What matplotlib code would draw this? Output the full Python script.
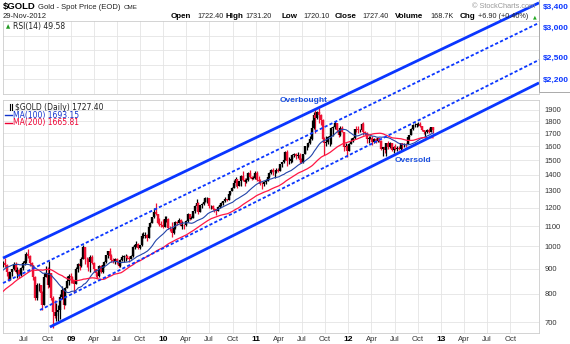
import numpy as np
import pandas as pd
import matplotlib.pyplot as plt
import matplotlib.dates as mdates
from matplotlib.patches import Rectangle
from matplotlib.lines import Line2D
from matplotlib.ticker import NullLocator

plt.rcParams['font.family'] = ['Liberation Sans', 'DejaVu Sans']

W, H = 570, 344

# weekly closes Jun 2007 - Mar 2008, only used to warm up the moving averages
early_closes = [650,
    656, 666, 681, 664,
    672, 678, 664, 667, 673,
    700, 710, 728, 743,
    738, 760, 765, 784,
    806, 833, 789, 823, 784,
    803, 806, 812, 838,
    865, 897, 883, 913,
    908, 922, 906, 948, 973,
    970, 1000, 920, 933]

# weekly candles Apr 2008 - Nov 2012 (one row per month)
closes = [
    914, 924, 915, 885,
    855, 885, 898, 922, 887,
    895, 872, 903, 925,
    932, 964, 955, 925,
    914, 866, 785, 832, 832,
    804, 760, 865, 880,
    832, 880, 785, 735, 722,
    733, 740, 787, 815,
    760, 823, 850, 870,
    # 2009
    865, 853, 838, 897, 920,
    913, 942, 995, 942,
    940, 930, 952, 925,
    900, 880, 870, 911,
    885, 915, 930, 958, 978,
    955, 938, 935, 940,
    928, 913, 938, 950, 954,
    955, 948, 942, 955,
    995, 1006, 1010, 990,
    1004, 1050, 1050, 1056, 1040,
    1093, 1118, 1146, 1175,
    1162, 1118, 1110, 1105,
    # 2010
    1096, 1138, 1139, 1092, 1083,
    1063, 1092, 1120, 1118,
    1133, 1102, 1105, 1104,
    1125, 1162, 1137, 1143, 1180,
    1208, 1228, 1177, 1213,
    1220, 1230, 1256, 1256,
    1210, 1210, 1190, 1189, 1181,
    1205, 1215, 1228, 1237,
    1247, 1246, 1276, 1297,
    1318, 1345, 1372, 1326, 1358,
    1394, 1367, 1353, 1364,
    1413, 1386, 1375, 1380, 1410,
    # 2011
    1369, 1360, 1342, 1340,
    1350, 1361, 1388, 1410,
    1430, 1420, 1420, 1430,
    1428, 1474, 1485, 1504, 1556,
    1491, 1493, 1511, 1536,
    1542, 1530, 1539, 1502,
    1486, 1542, 1600, 1602, 1628,
    1659, 1743, 1852, 1828,
    1877, 1857, 1810, 1656, 1622,
    1636, 1670, 1683, 1745,
    1755, 1787, 1725, 1686,
    1746, 1712, 1597, 1606, 1565,
    # 2012
    1616, 1640, 1665, 1739,
    1738, 1725, 1725, 1778,
    1711, 1700, 1658, 1662, 1668,
    1631, 1660, 1642, 1663,
    1643, 1580, 1592, 1572,
    1623, 1595, 1627, 1572, 1598,
    1579, 1590, 1580, 1622,
    1607, 1620, 1616, 1671, 1690,
    1738, 1771, 1772, 1774,
    1781, 1758, 1725, 1711,
    1715, 1731, 1714, 1751, 1727.40]

highs = [
    935, 935, 945, 918,
    890, 888, 900, 930, 930,
    905, 898, 905, 932,
    945, 972, 988, 958,
    928, 915, 868, 840, 840,
    835, 810, 880, 910,
    905, 935, 880, 790, 775,
    765, 760, 800, 830,
    815, 825, 870, 878,
    882, 870, 848, 905, 925,
    925, 950, 1005, 990,
    950, 945, 960, 960,
    930, 900, 885, 915,
    915, 920, 932, 962, 980,
    990, 965, 945, 945,
    945, 930, 940, 960, 958,
    965, 960, 955, 960,
    1000, 1010, 1025, 1015,
    1008, 1062, 1070, 1068, 1058,
    1100, 1123, 1150, 1195,
    1226, 1165, 1140, 1125,
    1135, 1155, 1155, 1140, 1100,
    1120, 1095, 1125, 1125,
    1140, 1135, 1128, 1110,
    1130, 1167, 1165, 1152, 1180,
    1212, 1250, 1230, 1215,
    1225, 1250, 1260, 1263,
    1245, 1215, 1215, 1200, 1190,
    1210, 1225, 1232, 1240,
    1260, 1252, 1280, 1300,
    1320, 1365, 1387, 1345, 1360,
    1398, 1424, 1380, 1380,
    1420, 1432, 1395, 1392, 1424,
    1422, 1390, 1373, 1350,
    1360, 1370, 1390, 1415,
    1440, 1445, 1425, 1448,
    1446, 1476, 1488, 1510, 1566,
    1576, 1520, 1514, 1540,
    1550, 1550, 1555, 1552,
    1512, 1545, 1600, 1610, 1632,
    1682, 1814, 1880, 1911,
    1890, 1921, 1860, 1820, 1675,
    1682, 1680, 1695, 1749,
    1765, 1802, 1790, 1725,
    1762, 1763, 1715, 1625, 1610,
    1626, 1662, 1670, 1740,
    1764, 1760, 1740, 1790,
    1792, 1720, 1712, 1680, 1683,
    1680, 1663, 1665, 1668,
    1668, 1648, 1594, 1600,
    1627, 1640, 1630, 1628, 1605,
    1620, 1600, 1600, 1625,
    1625, 1625, 1626, 1674, 1691,
    1741, 1775, 1790, 1787,
    1796, 1793, 1765, 1731,
    1723, 1738, 1742, 1755, 1754]

lows = [
    895, 905, 905, 870,
    850, 855, 868, 895, 880,
    860, 860, 868, 895,
    915, 925, 948, 912,
    898, 855, 775, 778, 812,
    775, 740, 760, 865,
    820, 825, 775, 682, 712,
    705, 705, 710, 780,
    745, 760, 820, 835,
    842, 840, 803, 838, 885,
    895, 905, 940, 920,
    905, 890, 885, 920,
    885, 865, 862, 865,
    880, 880, 905, 925, 945,
    950, 930, 925, 920,
    920, 905, 908, 935, 930,
    935, 940, 930, 940,
    950, 985, 998, 985,
    985, 1000, 1040, 1040, 1025,
    1040, 1095, 1120, 1140,
    1160, 1110, 1100, 1095,
    1090, 1120, 1120, 1087, 1075,
    1045, 1060, 1085, 1105,
    1115, 1100, 1087, 1087,
    1100, 1120, 1132, 1135, 1140,
    1170, 1195, 1165, 1185,
    1195, 1215, 1230, 1225,
    1195, 1190, 1188, 1175, 1158,
    1180, 1195, 1210, 1215,
    1230, 1240, 1245, 1270,
    1297, 1315, 1325, 1315, 1330,
    1325, 1360, 1330, 1345,
    1360, 1380, 1365, 1370, 1375,
    1360, 1355, 1332, 1310,
    1327, 1340, 1358, 1380,
    1405, 1400, 1380, 1410,
    1415, 1440, 1455, 1482, 1500,
    1462, 1470, 1479, 1484,
    1521, 1510, 1515, 1480,
    1478, 1480, 1540, 1570, 1595,
    1620, 1650, 1740, 1702,
    1820, 1790, 1770, 1640, 1535,
    1600, 1620, 1600, 1620,
    1680, 1740, 1710, 1670,
    1680, 1710, 1565, 1590, 1522,
    1564, 1615, 1630, 1660,
    1710, 1705, 1715, 1725,
    1688, 1685, 1627, 1625, 1655,
    1612, 1628, 1625, 1636,
    1635, 1575, 1527, 1550,
    1532, 1583, 1590, 1562, 1550,
    1575, 1564, 1570, 1575,
    1583, 1594, 1598, 1618, 1650,
    1688, 1725, 1756, 1753,
    1763, 1752, 1716, 1698,
    1675, 1707, 1705, 1711, 1705]

# trend channel: start date/price, end date/price
chan_start = ['2008-04-08', '2008-04-08', '2008-09-01', '2008-10-10']
chan_p0 = [946, 841, 741, 684]
chan_end = '2014-01-22'
chan_p1 = [3143, 2860, 2403, 2157]
chan_tags = ['$3,400', '$3,000', '$2,500', '$2,200']

price_ticks = [700, 800, 900, 1000, 1100, 1200, 1300, 1400, 1500,
               1600, 1700, 1800, 1900]
tick_dates = pd.date_range('2008-07-01', '2013-10-01', freq='QS-JAN')
tick_labels = ['Jul', 'Oct', '09', 'Apr', 'Jul', 'Oct', '10', 'Apr', 'Jul',
               'Oct', '11', 'Apr', 'Jul', 'Oct', '12', 'Apr', 'Jul', 'Oct',
               '13', 'Apr', 'Jul', 'Oct']

weeks = pd.date_range('2007-06-29', '2012-11-30', freq='W-FRI')
all_close = pd.Series(early_closes + closes, index=weeks, dtype=float)
ma100 = all_close.rolling(20).mean()
ma200 = all_close.rolling(40).mean()
n0 = len(early_closes)

c = np.array(closes, float)
o = all_close.shift(1).values[n0:]
h = np.maximum(np.array(highs, float), np.maximum(o, c))
l = np.minimum(np.array(lows, float), np.minimum(o, c))
xw = mdates.date2num(weeks[n0:]) - 2

BLUE = '#0a36ff'
GRID = '#e4e4e4'
x_lo = mdates.date2num(pd.Timestamp('2008-04-08'))
x_hi = mdates.date2num(pd.Timestamp(chan_end))
tick_x = mdates.date2num(tick_dates)

fig = plt.figure(figsize=(W / 100, H / 100), dpi=100)

def ftext(x, y, s, **kw):
    kw.setdefault('va', 'center')
    return fig.text(x / W, 1 - y / H, s, **kw)

# RSI panel (only the grid shows)
ax_rsi = fig.add_axes([3 / W, 1 - 94 / H, 536 / W, 73 / H])
ax_rsi.set_xlim(x_lo, x_hi)
ax_rsi.set_ylim(0, 100)
ax_rsi.set_xticks(tick_x)
ax_rsi.set_yticks([20, 40, 60, 80])
ax_rsi.grid(True, color=GRID, lw=0.6)
ax_rsi.tick_params(length=0, labelbottom=False, labelleft=False)
for s in ax_rsi.spines.values():
    s.set_color('#cccccc')
    s.set_linewidth(0.6)

# price panel
ax = fig.add_axes([3 / W, 1 - 333 / H, 536 / W, 233 / H])
ax.set_facecolor('none')
ax.set_yscale('log')
ax.set_xlim(x_lo, x_hi)
ax.set_ylim(665, 1990)
ax.yaxis.set_minor_locator(NullLocator())
ax.set_yticks(price_ticks)
ax.set_yticklabels([str(p) for p in price_ticks])
ax.yaxis.tick_right()
ax.set_xticks(tick_x)
ax.set_xticklabels(tick_labels)
ax.tick_params(length=0, labelsize=5.5, labelcolor='#333333')
ax.tick_params(axis='y', pad=4)
ax.tick_params(axis='x', pad=2.5)
for t in ax.get_xticklabels():
    if t.get_text().isdigit():
        t.set_fontweight('bold')
        t.set_color('black')
        t.set_fontsize(6)
ax.grid(True, color=GRID, lw=0.6)
ax.set_axisbelow(True)
for s in ax.spines.values():
    s.set_color('#cccccc')
    s.set_linewidth(0.6)

# candles: black up, red down
cols = np.where(c >= o, 'black', '#ee1133')
ax.vlines(xw, l, h, colors=cols, lw=0.9, zorder=3)
ax.vlines(xw, np.minimum(o, c), np.maximum(o, c), colors=cols, lw=1.7, zorder=3)

ax.plot(mdates.date2num(weeks[n0:]), ma100.values[n0:], color='#2244aa', lw=0.8, zorder=4)
ax.plot(mdates.date2num(weeks[n0:]), ma200.values[n0:], color='#ff1744', lw=0.9, zorder=4)

# channel lines, left unclipped so they run up through the RSI panel
for i in range(len(chan_p0)):
    xs = mdates.date2num([pd.Timestamp(chan_start[i]), pd.Timestamp(chan_end)])
    if i in (0, 3):
        ax.plot(xs, [chan_p0[i], chan_p1[i]], color=BLUE, lw=2.0, clip_on=False,
                solid_capstyle='butt', zorder=5)
    else:
        ax.plot(xs, [chan_p0[i], chan_p1[i]], color=BLUE, lw=1.3, clip_on=False,
                ls=(0, (1.8, 1.2)), zorder=5)

# box holding the channel values
fig.add_artist(Rectangle((539 / W, 1 - 92 / H), 40 / W, 100 / H, transform=fig.transFigure,
                         fc='white', ec='#aaaaaa', lw=0.7, zorder=6))
for tag, y in zip(chan_tags, [7, 28, 58, 80]):
    t = ftext(543, y, tag, color=BLUE, fontsize=6, fontweight='bold')
    t.set_zorder(7)

# header
ftext(3, 7, '$GOLD', fontsize=6.8, fontweight='bold')
ftext(38, 7.5, 'Gold - Spot Price (EOD)', fontsize=5.5, color='#222222')
ftext(124, 7.5, 'CME', fontsize=4.5, color='#222222')
ftext(3, 16.3, '29-Nov-2012', fontsize=5.5, color='#222222')
ftext(472, 6, '\u00a9 StockCharts.com', fontsize=5.3, color='#999999')
row = [(171, 'Open', True), (197, '1722.40', False), (226, 'High', True),
       (245, '1731.20', False), (282, 'Low', True), (303, '1720.10', False),
       (335, 'Close', True), (362, '1727.40', False), (395, 'Volume', True),
       (430, '168.7K', False), (460, 'Chg', True), (477, '+6.90 (+0.40%)', False)]
for x, s, b in row:
    if b:
        ftext(x, 16.3, s, fontsize=5.8, fontweight='bold')
    else:
        ftext(x + 0.5, 16.5, s, fontsize=5.2, color='#222222')
ftext(533, 17, '\u25b2', fontsize=3.5, color='#22aa22', family=['DejaVu Sans'])

# panel legends
ftext(6, 26.5, '\u25b2', fontsize=4, color='#229922', family=['DejaVu Sans'])
ftext(13, 26.7, 'RSI(14) 49.58', fontsize=5.5, color='#222222', family=['DejaVu Sans'])
fig.add_artist(Line2D([9.5 / W, 9.5 / W], [1 - 104 / H, 1 - 110 / H], color='black', lw=0.8))
fig.add_artist(Line2D([12 / W, 12 / W], [1 - 104 / H, 1 - 110 / H], color='black', lw=0.8))
ftext(15, 107, '$GOLD (Daily) 1727.40', fontsize=5.5, color='#222222', family=['DejaVu Sans'])
fig.add_artist(Line2D([5 / W, 12 / W], [1 - 115.3 / H] * 2, color='#1133cc', lw=1.0))
ftext(13, 115.3, 'MA(100) 1693.15', fontsize=5.5, color='#1133cc', family=['DejaVu Sans'])
fig.add_artist(Line2D([5 / W, 12 / W], [1 - 123 / H] * 2, color='#ee0033', lw=1.0))
ftext(13, 123, 'MA(200) 1665.81', fontsize=5.5, color='#ee0033', family=['DejaVu Sans'])

ftext(280, 100.3, 'Overbought', fontsize=6, fontweight='bold', color='#1a4fe0')
ftext(395, 161, 'Oversold', fontsize=6, fontweight='bold', color='#1a4fe0')

fig.savefig('out.png', dpi=100)
